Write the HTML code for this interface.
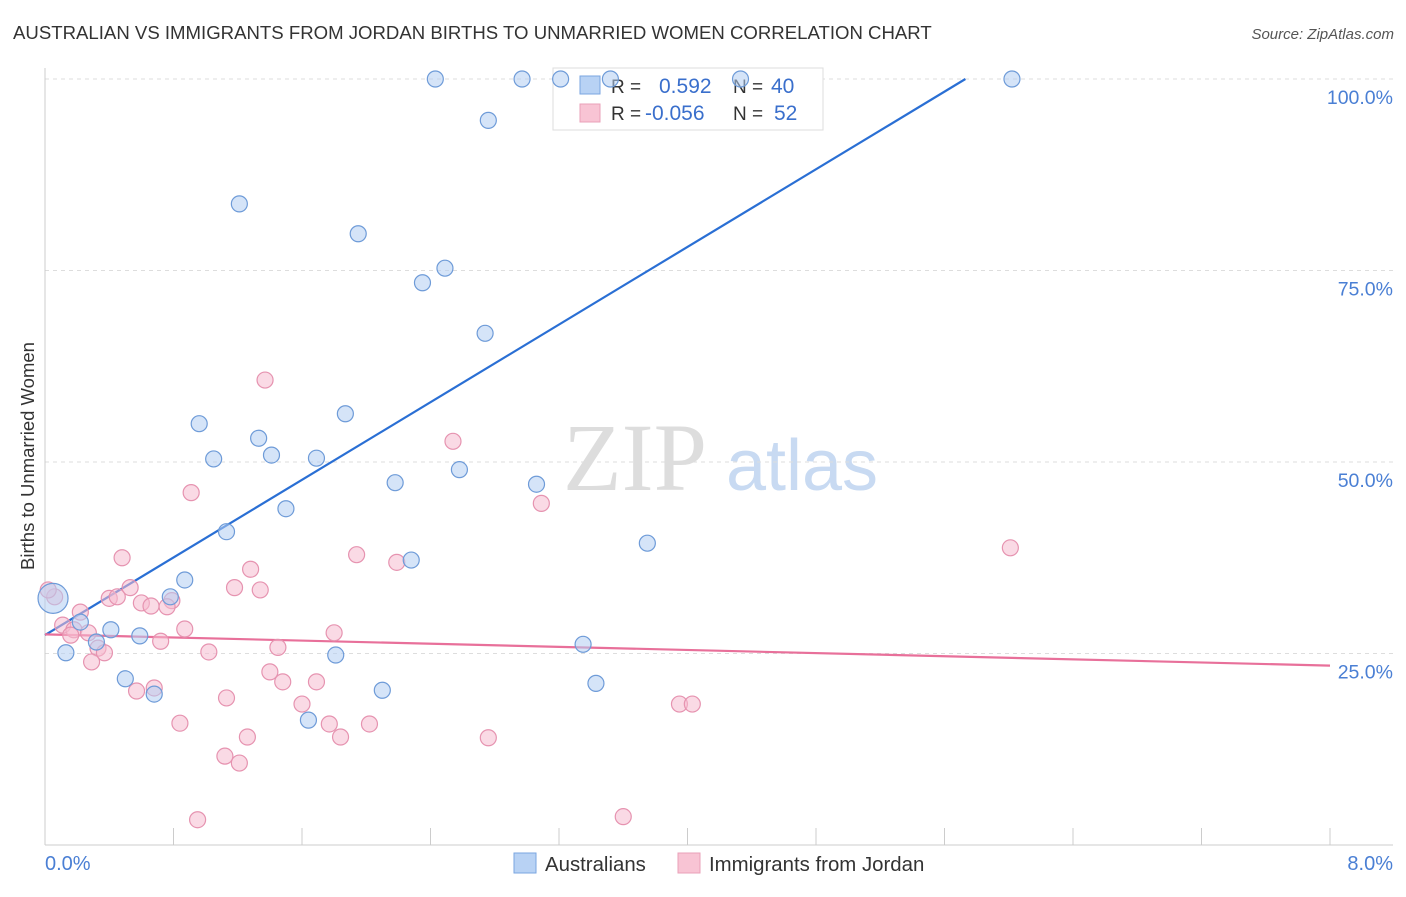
<!DOCTYPE html>
<html><head><meta charset="utf-8">
<style>
body{margin:0;background:#fff;font-family:"Liberation Sans",sans-serif;}
svg text{font-family:"Liberation Sans",sans-serif;}
</style></head>
<body>
<svg id="chart" width="1406" height="892" viewBox="0 0 1406 892" xmlns="http://www.w3.org/2000/svg">
<text x="13" y="39" font-size="18.6" fill="#333">AUSTRALIAN VS IMMIGRANTS FROM JORDAN BIRTHS TO UNMARRIED WOMEN CORRELATION CHART</text>
<text x="1394" y="39" font-size="15" fill="#555" text-anchor="end" font-style="italic">Source: ZipAtlas.com</text>
<g>
<text x="635" y="490" font-size="96" fill="#ddd" text-anchor="middle" font-family="Liberation Serif" style="font-family:'Liberation Serif',serif">ZIP</text>
<text x="802" y="490" font-size="72" fill="#c8daf2" text-anchor="middle">atlas</text>
</g>
<g id="grid"></g>
<g id="axes"></g>
<g>
<rect x="553" y="68" width="270" height="62" fill="#fff" stroke="#ddd"/>
<rect x="580" y="76" width="20" height="18" fill="#b8d2f4" stroke="#7aa6e0"/>
<rect x="580" y="104" width="20" height="18" fill="#f8c4d4" stroke="#eaa0b8"/>
<text x="611" y="93" font-size="19" fill="#333">R = </text><text x="659" y="93" font-size="21" fill="#3a6fcc">0.592</text>
<text x="733" y="93" font-size="19" fill="#333">N = </text><text x="771" y="93" font-size="21" fill="#3a6fcc">40</text>
<text x="611" y="120" font-size="19" fill="#333">R = </text><text x="645" y="120" font-size="21" fill="#3a6fcc">-0.056</text>
<text x="733" y="120" font-size="19" fill="#333">N = </text><text x="774" y="120" font-size="21" fill="#3a6fcc">52</text>
</g>
<g id="lines"></g>
<g id="points"></g>
<text transform="translate(34,456) rotate(-90)" font-size="18.5" fill="#333" text-anchor="middle">Births to Unmarried Women</text>
<text x="45" y="870" font-size="20" fill="#4a7fd4">0.0%</text>
<text x="1393" y="870" font-size="20" fill="#4a7fd4" text-anchor="end">8.0%</text>
<g>
<rect x="514" y="853" width="22" height="20" fill="#b8d2f4" stroke="#7aa6e0"/>
<text x="545" y="871" font-size="20.4" fill="#333">Australians</text>
<rect x="678" y="853" width="22" height="20" fill="#f8c4d4" stroke="#eaa0b8"/>
<text x="709" y="871" font-size="20.4" fill="#333">Immigrants from Jordan</text>
</g>
</svg>
<script>
const blueX=[2.43,2.97,3.21,3.52,4.33,6.02,2.76,1.21,1.95,2.49,2.35,2.74,1.87,0.96,1.33,1.05,1.41,1.69,2.58,2.18,3.06,1.50,1.13,3.75,2.28,0.87,0.78,0.05,0.22,0.41,0.59,0.32,0.13,1.81,3.35,0.50,0.68,2.10,3.43,1.64];
const blueY=[100,100,100,100,100,100,94.6,83.7,79.8,75.3,73.4,66.8,56.3,55.0,53.1,50.4,50.9,50.5,49.0,47.3,47.1,43.9,40.9,39.4,37.2,34.6,32.4,32.2,29.1,28.1,27.3,26.5,25.1,24.8,26.2,21.7,19.7,20.2,21.1,16.3];
const pinkX=[1.37,2.54,0.91,3.09,6.01,0.48,1.94,2.19,1.28,0.53,1.18,1.34,0.40,0.45,0.60,0.66,0.79,0.76,0.06,0.02,0.22,0.11,0.18,0.16,0.27,0.87,1.80,0.72,1.45,0.33,0.37,1.02,0.29,1.40,1.48,1.69,0.68,0.57,1.13,1.60,3.95,4.03,0.84,1.77,2.02,2.76,1.26,1.84,1.12,1.21,0.95,3.60];
const pinkY=[60.7,52.7,46.0,44.6,38.8,37.5,37.9,36.9,36.0,33.6,33.6,33.3,32.2,32.4,31.6,31.2,31.9,31.1,32.4,33.3,30.4,28.7,28.1,27.4,27.7,28.2,27.7,26.6,25.8,25.7,25.1,25.2,23.9,22.6,21.3,21.3,20.5,20.1,19.2,18.4,18.4,18.4,15.9,15.8,15.8,14.0,14.1,14.1,11.6,10.7,3.3,3.7];
const blueTrend=[27.4,12.67];
const pinkTrend=[27.5,-0.51];
const yTicks=[25,50,75,100];
const yTickLabels=["25.0%","50.0%","75.0%","100.0%"];
const xTicks=[0,0.8,1.6,2.4,3.2,4.0,4.8,5.6,6.4,7.2,8.0];
const NS="http://www.w3.org/2000/svg";
const X=v=>45+v/8*1285, Y=v=>845-v*7.66;
function mk(tag,attrs,parent){const e=document.createElementNS(NS,tag);for(const k in attrs)e.setAttribute(k,attrs[k]);document.getElementById(parent).appendChild(e);return e;}
yTicks.forEach((t,i)=>{
 const l=mk('line',{x1:45,x2:1393,y1:Y(t),y2:Y(t),stroke:'#ddd','stroke-dasharray':'4,4'},'grid');
 
 
 const tx=mk('text',{x:1393,y:Y(t)+25,'font-size':19.5,fill:'#4a7fd4','text-anchor':'end'},'grid');
 tx.textContent=yTickLabels[i];
 
 
});
const ax=mk('line',{x1:45,x2:45,y1:68,y2:845,stroke:'#ccc'},'axes');


const bx=mk('line',{x1:45,x2:1393,y1:845,y2:845,stroke:'#ccc'},'axes');


xTicks.forEach(t=>{
 const l=mk('line',{x1:X(t),x2:X(t),y1:828,y2:845,stroke:'#ccc'},'axes');
 
 
});
function pts(xs,ys,fill,stroke,name){
 xs.forEach((x,i)=>{
  const big=(name==='australian-point'&&i===27);
  const c=mk('circle',{cx:X(x),cy:Y(ys[i]),r:big?15:8,fill:fill,'fill-opacity':0.55,stroke:stroke,'stroke-width':1.2},'points');
  
  
 });
}
pts(pinkX,pinkY,'#f6bccf','#e693b0','jordan-point');
pts(blueX,blueY,'#b2cdf2','#6e9bd8','australian-point');
const bEnd=(100-blueTrend[0])/blueTrend[1];
const bl=mk('line',{x1:X(0),y1:Y(blueTrend[0]),x2:X(bEnd),y2:Y(100),stroke:'#2a6fd4','stroke-width':2.2},'lines');


const pl=mk('line',{x1:X(0),y1:Y(pinkTrend[0]),x2:X(8),y2:Y(pinkTrend[0]+pinkTrend[1]*8),stroke:'#e8709a','stroke-width':2.2},'lines');


</script>
</body></html>
